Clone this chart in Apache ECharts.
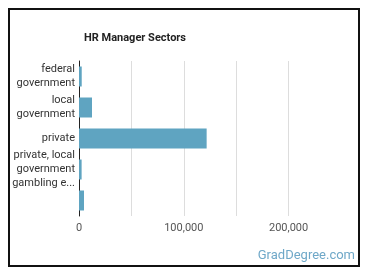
<!DOCTYPE html>
<html><head><meta charset="utf-8">
<script src="https://cdn.jsdelivr.net/npm/echarts@6/dist/echarts.min.js"></script>
<style>html,body{margin:0;padding:0;background:#fff}#c{width:370px;height:278px}</style>
</head><body><div id="c"></div>
<script>
const categories = ['federal\ngovernment', 'local\ngovernment', 'private', 'private, local\ngovernment\ngambling e...', ''];
const values = [2600, 12400, 121800, 2500, 4800];
const tickLabels = { 0: '0', 100000: '100,000', 200000: '200,000' };

const chart = echarts.init(document.getElementById('c'), null, { renderer: 'canvas' });
chart.setOption({
  animation: false,
  backgroundColor: '#fff',
  title: {
    text: 'HR Manager Sectors', left: 79, top: 28,
    textStyle: { fontFamily: 'Roboto', fontWeight: 'bold', fontSize: 11, color: '#222' }
  },
  graphic: [
    { type: 'rect', shape: { x: 9, y: 9, width: 350, height: 257 }, style: { fill: 'none', stroke: '#111', lineWidth: 2 } },
    { type: 'text', right: 15, top: 249, style: { text: 'GradDegree.com', fontFamily: 'Roboto', fontSize: 13, fill: '#6fa8c8' } }
  ],
  grid: { left: 79, top: 61, width: 262, height: 155, containLabel: false },
  xAxis: {
    type: 'value', min: 0, max: 250000, interval: 50000,
    axisLine: { show: false }, axisTick: { show: false },
    splitLine: { show: true, showMinLine: false, showMaxLine: false, lineStyle: { color: '#ddd', width: 1 } },
    axisLabel: {
      margin: 7, fontFamily: 'Roboto', fontSize: 11, color: '#555',
      formatter: v => (tickLabels[v] !== undefined ? tickLabels[v] : '')
    }
  },
  yAxis: {
    type: 'category', data: categories, inverse: true,
    axisLine: { show: true, lineStyle: { color: '#222', width: 1 } },
    axisTick: { show: false },
    axisLabel: { margin: 4, fontFamily: 'Roboto', fontSize: 11, color: '#333', lineHeight: 14, align: 'right' }
  },
  series: [{
    type: 'bar', data: values, barWidth: 20,
    itemStyle: { color: '#5fa4c1' }
  }]
});
</script></body></html>
